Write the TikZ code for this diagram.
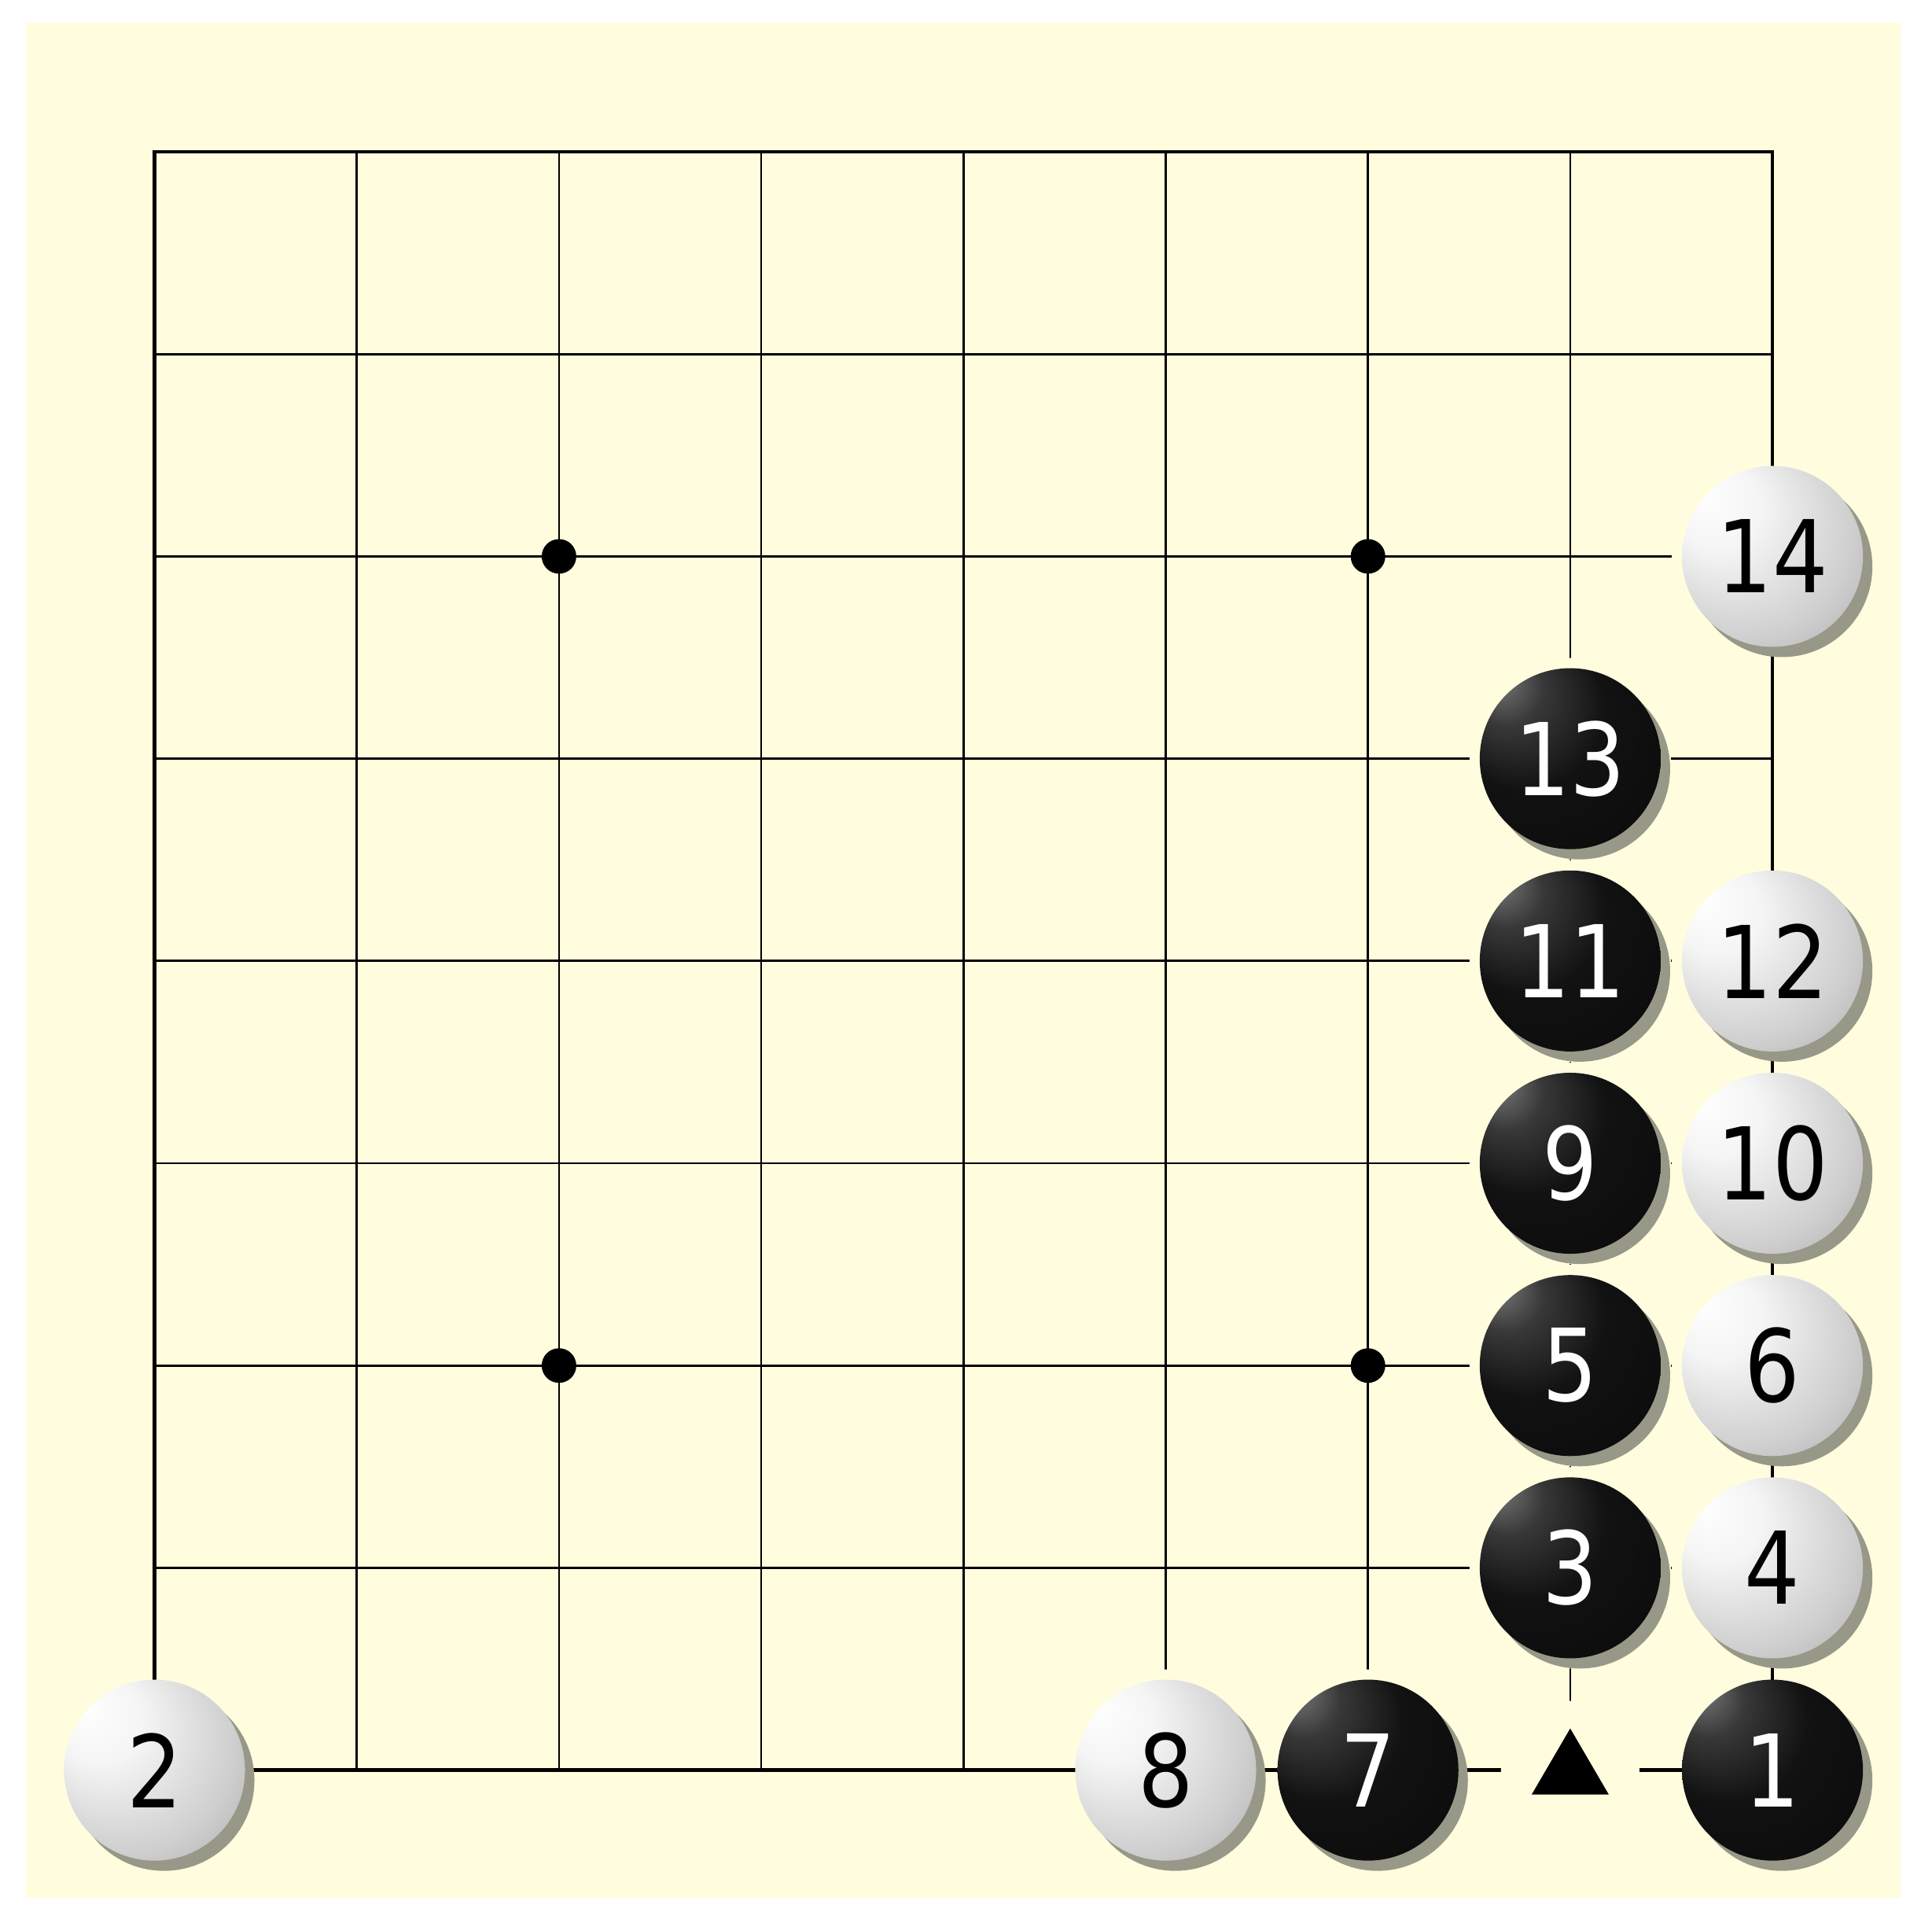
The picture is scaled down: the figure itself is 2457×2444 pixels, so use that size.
\documentclass[tikz,border=0pt]{standalone}
\usepackage{fontspec}
\newfontfamily\stonefont[FakeStretch=0.87]{DejaVu Sans}
\usetikzlibrary{shadows}
\definecolor{boardyellow}{RGB}{255,253,222}
\definecolor{shadowcol}{RGB}{152,152,136}
\pgfdeclareradialshading{wstoneshade}{\pgfpoint{-20bp}{18bp}}{color(0bp)=(white); color(12bp)=(white!96!black); color(30bp)=(white!81!black); color(42bp)=(white!67!black); color(50bp)=(white!52!black)}
\pgfdeclareradialshading{bstoneshade}{\pgfpoint{-22bp}{24bp}}{color(0bp)=(black!48); color(10bp)=(black!78); color(22bp)=(black!93); color(50bp)=(black!97)}
\tikzset{
  gridline/.style={line width=0.77pt, black},
  borderline/.style={line width=1.3pt, black},
  stonebase/.style={circle, inner sep=0pt, minimum size=2.3cm,
    font=\stonefont\fontsize{36.3}{36}\selectfont,
    drop shadow={shadow xshift=0.12cm, shadow yshift=-0.13cm, fill=shadowcol, opacity=1}},
  wstone/.style={stonebase, shading=wstoneshade, text=black},
  bstone/.style={stonebase, shading=bstoneshade, text=white},
}
\begin{document}
\begin{tikzpicture}[x=0.01cm, y=-0.01cm]
\fill[white] (0,0) rectangle (2457,2444);
\useasboundingbox (0,0) rectangle (2457,2444);
\fill[boardyellow] (33,29) rectangle (2417,2413);
% grid points
\foreach \c in {0,...,8}{
  \foreach \r in {0,...,8}{
    \coordinate (g\c\r) at ({196.5+257.2*\c},{193+257.2*\r});
  }
}
% inner lines
\foreach \i in {1,...,7}{
  \draw[gridline] (g\i0) -- (g\i8);
  \draw[gridline] (g0\i) -- (g8\i);
}
% gaps around stones
\foreach \p in {08,58,68,88,77,87,76,86,75,85,74,84,73,82}{
  \fill[boardyellow] (g\p) circle (128);
}
% border
\draw[borderline] (g00) rectangle (g88);
% gap around the marked point
\fill[boardyellow] (g78) circle (88);
% star points
\foreach \p in {22,62,26,66}{
  \fill[black] (g\p) circle (22);
}
% triangle mark
\fill[black] (g78) ++(0,-53) -- ++(-49,84) -- ++(98,0) -- cycle;
% stones
\node[bstone] (s1) at (g88) {1};
\node[wstone] (s2) at (g08) {2};
\node[bstone] (s3) at (g77) {3};
\node[wstone] (s4) at (g87) {4};
\node[bstone] (s5) at (g76) {5};
\node[wstone] (s6) at (g86) {6};
\node[bstone] (s7) at (g68) {7};
\node[wstone] (s8) at (g58) {8};
\node[bstone] (s9) at (g75) {9};
\node[wstone] (s10) at (g85) {10};
\node[bstone] (s11) at (g74) {11};
\node[wstone] (s12) at (g84) {12};
\node[bstone] (s13) at (g73) {13};
\node[wstone] (s14) at (g82) {14};
\end{tikzpicture}
\end{document}
